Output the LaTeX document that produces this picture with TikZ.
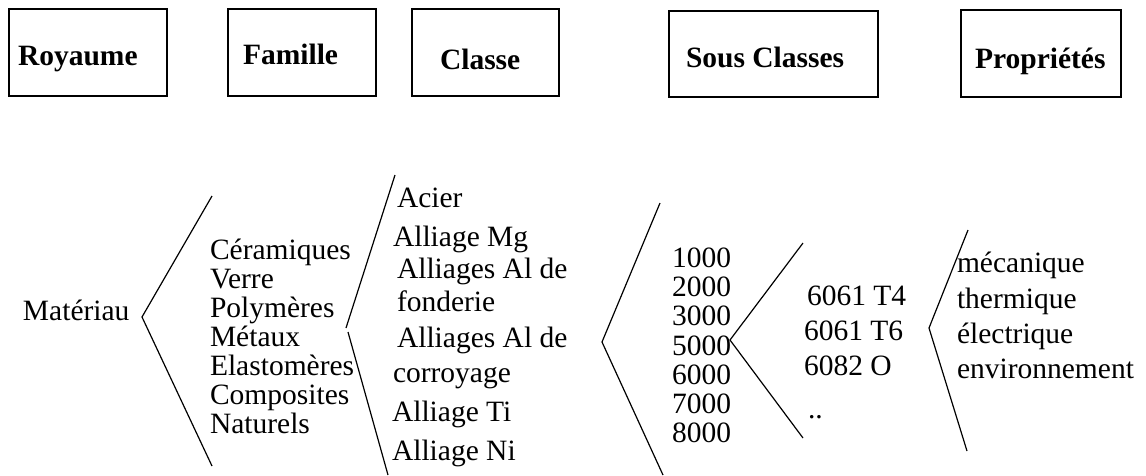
\documentclass[tikz,border=0pt]{standalone}
\usepackage{fontspec}
\setmainfont{Liberation Serif}
\begin{document}
\begin{tikzpicture}[x=1pt,y=-1pt,
  hdrbox/.style={draw=black,line width=1.2pt,anchor=north west,inner sep=0pt,outer sep=0pt},
  hdr/.style={anchor=base west,inner sep=0pt,outer sep=0pt,font=\fontsize{29.5}{32}\selectfont\bfseries},
  itm/.style={anchor=base west,inner sep=0pt,outer sep=0pt,font=\fontsize{29.5}{32}\selectfont},
  brace/.style={draw=black,line width=1.2pt}]
\useasboundingbox (0,0) rectangle (1146,475);
% header boxes
\node[hdrbox,minimum width=158pt,minimum height=87pt] (broy) at (9,9) {};
\node[hdr] (troy) at (18,65) {Royaume};
\node[hdrbox,minimum width=148pt,minimum height=87pt] (bfam) at (228,9) {};
\node[hdr] (tfam) at (243,64) {Famille};
\node[hdrbox,minimum width=147pt,minimum height=87pt] (bcla) at (412,9) {};
\node[hdr] (tcla) at (440,69) {Classe};
\node[hdrbox,minimum width=209pt,minimum height=86pt] (bsou) at (669,11) {};
\node[hdr] (tsou) at (686,67) {Sous Classes};
\node[hdrbox,minimum width=160pt,minimum height=87pt] (bpro) at (961,10) {};
\node[hdr] (tpro) at (975,68) {Propriétés};
% root
\node[itm] (mat) at (23,320) {Matériau};
% brace 1
\coordinate (c1a) at (212,196);
\coordinate (c1b) at (142,317);
\coordinate (c1c) at (212,466);
\draw[brace] (c1a) -- (c1b) -- (c1c);
% familles
\node[itm] (f1) at (210,259) {Céramiques};
\node[itm] (f2) at (210,288) {Verre};
\node[itm] (f3) at (210,317) {Polymères};
\node[itm] (f4) at (210,346) {Métaux};
\node[itm] (f5) at (210,375) {Elastomères};
\node[itm] (f6) at (210,404) {Composites};
\node[itm] (f7) at (210,433) {Naturels};
% brace 2
\coordinate (c2a) at (395,175);
\coordinate (c2b) at (346,328);
\coordinate (c2c) at (348,332);
\coordinate (c2d) at (388,475);
\draw[brace] (c2a) -- (c2b);
\draw[brace] (c2c) -- (c2d);
% classes
\node[itm] (k1) at (397,207) {Acier};
\node[itm] (k2) at (393,246) {Alliage Mg};
\node[itm] (k3) at (397,278) {Alliages Al de};
\node[itm] (k4) at (397,311) {fonderie};
\node[itm] (k5) at (397,347) {Alliages Al de};
\node[itm] (k6) at (393,382) {corroyage};
\node[itm] (k7) at (392,421) {Alliage Ti};
\node[itm] (k8) at (392,460) {Alliage Ni};
% brace 3
\coordinate (c3a) at (660,203);
\coordinate (c3b) at (602,342);
\coordinate (c3c) at (663,475);
\draw[brace] (c3a) -- (c3b) -- (c3c);
% series
\node[itm] (s1) at (672,267) {1000};
\node[itm] (s2) at (672,296) {2000};
\node[itm] (s3) at (672,325) {3000};
\node[itm] (s5) at (672,355) {5000};
\node[itm] (s6) at (672,384) {6000};
\node[itm] (s7) at (672,413) {7000};
\node[itm] (s8) at (672,442) {8000};
% brace 4
\coordinate (c4a) at (803,243);
\coordinate (c4b) at (730,340);
\coordinate (c4c) at (803,438);
\draw[brace] (c4a) -- (c4b) -- (c4c);
% nuances
\node[itm] (n1) at (807,305) {6061 T4};
\node[itm] (n2) at (804,340) {6061 T6};
\node[itm] (n3) at (804,375) {6082 O};
\node[itm] (n4) at (808,418) {..};
% brace 5
\coordinate (c5a) at (968,230);
\coordinate (c5b) at (929,328);
\coordinate (c5c) at (967,451);
\draw[brace] (c5a) -- (c5b) -- (c5c);
% proprietes
\node[itm] (p1) at (957,272) {mécanique};
\node[itm] (p2) at (957,308) {thermique};
\node[itm] (p3) at (957,343) {électrique};
\node[itm] (p4) at (957,378) {environnement};
\end{tikzpicture}
\end{document}
